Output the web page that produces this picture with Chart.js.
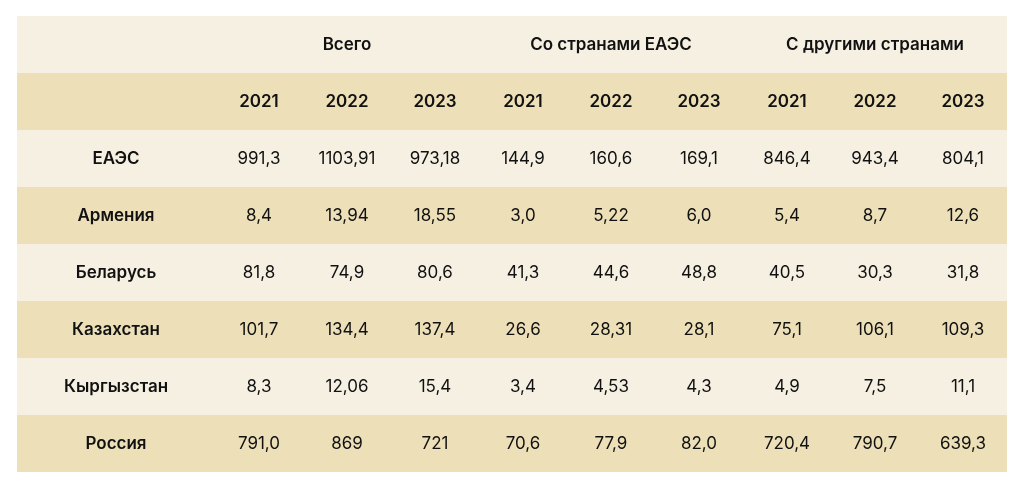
<!DOCTYPE html>
<html><head><meta charset="utf-8">
<script src="https://cdn.jsdelivr.net/npm/chart.js@4"></script>
<style>html,body{margin:0;padding:0;background:#fff}#wrap{width:1024px;height:489px;position:relative}</style>
</head><body><div id="wrap"><canvas id="c"></canvas></div>
<script>
// table content
const groups = ['Всего', 'Со странами ЕАЭС', 'С другими странами'];
const years = ['2021', '2022', '2023'];
const countries = ['ЕАЭС', 'Армения', 'Беларусь', 'Казахстан', 'Кыргызстан', 'Россия'];
const values = [
  ['991,3', '1103,91', '973,18', '144,9', '160,6', '169,1', '846,4', '943,4', '804,1'],
  ['8,4', '13,94', '18,55', '3,0', '5,22', '6,0', '5,4', '8,7', '12,6'],
  ['81,8', '74,9', '80,6', '41,3', '44,6', '48,8', '40,5', '30,3', '31,8'],
  ['101,7', '134,4', '137,4', '26,6', '28,31', '28,1', '75,1', '106,1', '109,3'],
  ['8,3', '12,06', '15,4', '3,4', '4,53', '4,3', '4,9', '7,5', '11,1'],
  ['791,0', '869', '721', '70,6', '77,9', '82,0', '720,4', '790,7', '639,3']
];
const lightRow = '#f5f0e1';
const darkRow = '#ede0b9';
const font = 'Inter, "Open Sans", sans-serif';

const tablePlugin = {
  id: 'table',
  beforeDraw(chart) {
    const {ctx, scales: {x, y}} = chart;
    const rowTop = r => y.getPixelForValue(r);
    const rowMid = r => y.getPixelForValue(r + 0.5);
    const colMid = c => x.getPixelForValue(c + 0.5);
    const left = x.getPixelForValue(x.min), right = x.getPixelForValue(x.max);
    ctx.save();
    for (let r = 0; r < 2 + countries.length; r++) {
      ctx.fillStyle = r % 2 === 0 ? lightRow : darkRow;
      ctx.fillRect(left, rowTop(r), right - left, rowTop(r + 1) - rowTop(r));
    }
    ctx.fillStyle = '#111';
    ctx.textAlign = 'center';
    ctx.textBaseline = 'middle';
    ctx.font = '600 17px ' + font;
    groups.forEach((g, i) => ctx.fillText(g, colMid(i * 3 + 1), rowMid(0)));
    for (let c = 0; c < 9; c++) ctx.fillText(years[c % 3], colMid(c), rowMid(1));
    countries.forEach((name, i) => ctx.fillText(name, x.getPixelForValue(-1.125), rowMid(i + 2)));
    ctx.font = '400 17px ' + font;
    values.forEach((row, i) => row.forEach((v, c) => ctx.fillText(v, colMid(c), rowMid(i + 2))));
    ctx.restore();
  }
};

new Chart(document.getElementById('c'), {
  type: 'scatter',
  data: {datasets: [{data: []}]},
  plugins: [tablePlugin],
  options: {
    responsive: true,
    maintainAspectRatio: false,
    animation: false,
    layout: {padding: {left: 17, right: 17, top: 16, bottom: 17}},
    plugins: {legend: {display: false}, tooltip: {enabled: false}},
    scales: {
      x: {type: 'linear', min: -2.25, max: 9, display: false},
      y: {type: 'linear', min: 0, max: 8, reverse: true, display: false}
    }
  }
});
</script></body></html>
